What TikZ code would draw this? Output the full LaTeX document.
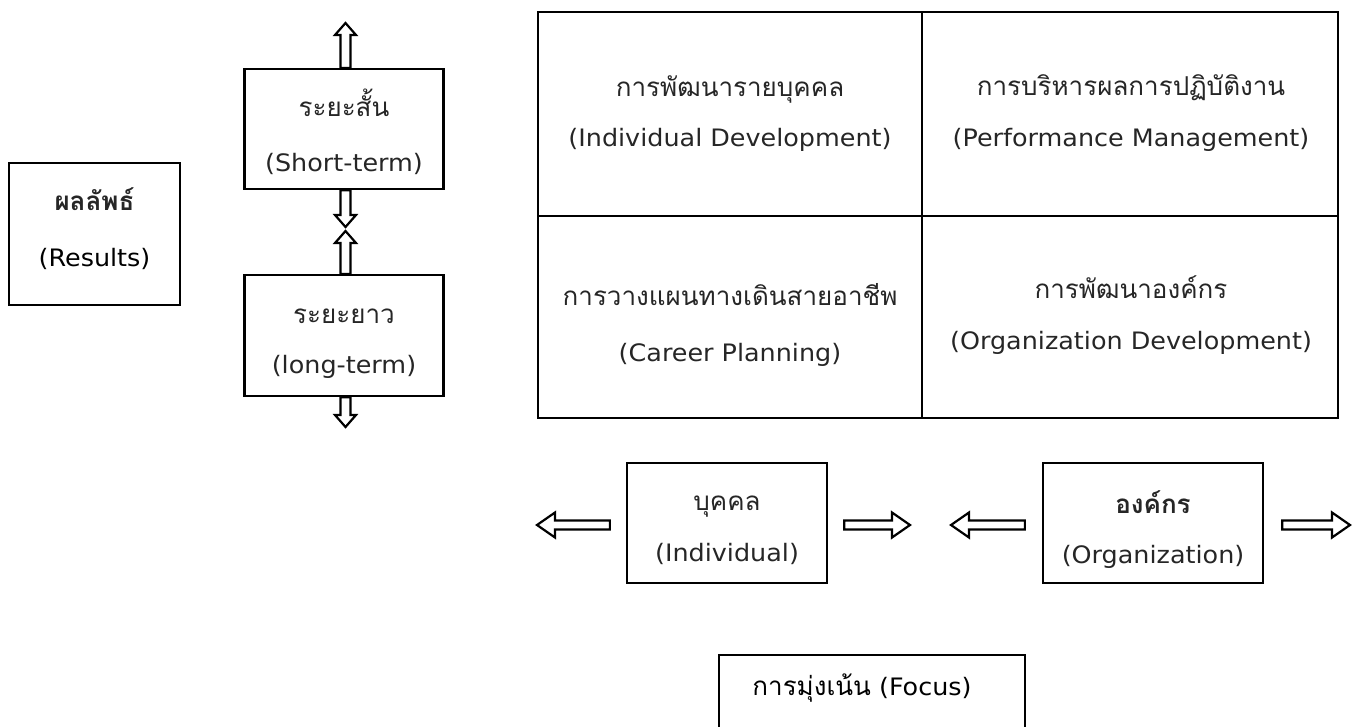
\documentclass[tikz,border=0pt]{standalone}
\usepackage{fontspec}
\setmainfont[Script=Thai]{Loma}
\newfontfamily\lat[FakeStretch=1.06]{DejaVu Sans}
\usetikzlibrary{calc}
\tikzset{
  box/.style={draw=black, line width=2.3pt, inner sep=0pt},
  cell/.style={draw=black, line width=2pt, inner sep=0pt},
  th/.style={inner sep=0pt, anchor=base, text=black!85, font=\fontsize{26}{30}\selectfont},
  en/.style={inner sep=0pt, anchor=base, text=black!85, font=\lat\fontsize{24}{28}\selectfont},
  harrow/.style n args={3}{draw=black, line width=2.2pt, fill=white, line join=miter,
    to path={let \p1=($(\tikztotarget)!#3!(\tikztostart)$) in
      ($(\tikztostart)!#1!90:(\tikztotarget)$) -- ($(\p1)!#1!90:(\tikztotarget)$)
      -- ($(\p1)!#2!90:(\tikztotarget)$) -- (\tikztotarget)
      -- ($(\p1)!#2!-90:(\tikztotarget)$) -- ($(\p1)!#1!-90:(\tikztotarget)$)
      -- ($(\tikztostart)!#1!-90:(\tikztotarget)$) -- cycle}},
  varrow/.style={harrow={5pt}{10.5pt}{12pt}},
  sarrow/.style={harrow={4.5pt}{12.5pt}{18pt}},
}
\begin{document}
\begin{tikzpicture}[x=1pt,y=-1pt]
\useasboundingbox (0,0) rectangle (1357,726);
\clip (0,0) rectangle (1357,726);
% left column
\node[box, minimum width=171pt, minimum height=142pt] (res) at (94.5,234) {};
\node[th] (res1) at (94.5,210) {\textbf{ผลลัพธ์}};
\node[en, text=black] (res2) at (94.5,266.5) {(Results)};
\node[box, minimum width=199pt, minimum height=120pt] (short) at (344,129) {};
\node[th] (short1) at (344,116) {ระยะสั้น};
\node[en] (short2) at (344,171.5) {(Short-term)};
\node[box, minimum width=199pt, minimum height=121pt] (long) at (344,335.5) {};
\node[th] (long1) at (344,323) {ระยะยาว};
\node[en] (long2) at (344,373.5) {(long-term)};
\coordinate (upend) at (345.5,23);
\coordinate (midA) at (345.5,227);
\coordinate (midB) at (345.5,231);
\coordinate (downend) at (345.5,427);
\draw[varrow] (short.north -| upend) to (upend);
\draw[varrow] (short.south -| midA) to (midA);
\draw[varrow] (long.north -| midB) to (midB);
\draw[varrow] (long.south -| downend) to (downend);
% grid
\node[cell, minimum width=384pt, minimum height=204pt] (id) at (730,114) {};
\node[cell, minimum width=416pt, minimum height=204pt] (pm) at (1130,114) {};
\node[cell, minimum width=384pt, minimum height=202pt] (cp) at (730,317) {};
\node[cell, minimum width=416pt, minimum height=202pt] (od) at (1130,317) {};
\node[th] (id1) at (730,96) {การพัฒนารายบุคคล};
\node[en] (id2) at (730,146) {(Individual Development)};
\node[th] (pm1) at (1131,95) {การบริหารผลการปฏิบัติงาน};
\node[en] (pm2) at (1131,146) {(Performance Management)};
\node[th] (cp1) at (730,305) {การวางแผนทางเดินสายอาชีพ};
\node[en] (cp2) at (730,361) {(Career Planning)};
\node[th] (od1) at (1131,298) {การพัฒนาองค์กร};
\node[en] (od2) at (1131,349) {(Organization Development)};
% bottom row
\node[box, minimum width=200pt, minimum height=120pt] (ind) at (727,523) {};
\node[th] (ind1) at (727,510) {บุคคล};
\node[en] (ind2) at (727,561.5) {(Individual)};
\node[box, minimum width=220pt, minimum height=120pt] (org) at (1153,523) {};
\node[th] (org1) at (1153,513) {\textbf{องค์กร}};
\node[en] (org2) at (1153,563.5) {(Organization)};
\coordinate (a1s) at ([xshift=-16pt,yshift=-2pt]ind.west);
\coordinate (a1e) at (537,525);
\coordinate (a2s) at ([xshift=16pt,yshift=-2pt]ind.east);
\coordinate (a2e) at (910,525);
\coordinate (a3s) at ([xshift=-17pt,yshift=-2pt]org.west);
\coordinate (a3e) at (951,525);
\coordinate (a4s) at ([xshift=18pt,yshift=-2pt]org.east);
\coordinate (a4e) at (1350,525);
\draw[sarrow] (a1s) to (a1e);
\draw[sarrow] (a2s) to (a2e);
\draw[sarrow] (a3s) to (a3e);
\draw[sarrow] (a4s) to (a4e);
% focus
\node[box, minimum width=306pt, minimum height=90pt] (focus) at (872,700) {};
\node[inner sep=0pt, anchor=base, text=black] (focust) at (862,695) {{\fontsize{26}{30}\selectfont การมุ่งเน้น}{\lat\fontsize{24}{28}\selectfont\ (Focus)}};
\end{tikzpicture}
\end{document}
